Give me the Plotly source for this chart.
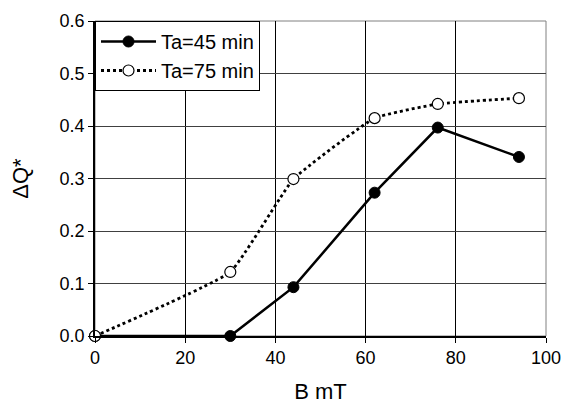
import plotly.graph_objects as go

b_45 = [0, 30, 44, 62, 76, 94]
dq_45 = [0.0, 0.0, 0.093, 0.273, 0.397, 0.341]
b_75 = [0, 30, 44, 62, 76, 94]
dq_75 = [0.0, 0.122, 0.299, 0.415, 0.442, 0.453]
names = ["Ta=45 min", "Ta=75 min"]

fig = go.Figure()
fig.add_trace(go.Scatter(
    x=b_45, y=dq_45, name=names[0], mode="lines+markers",
    line=dict(color="black", width=2.5),
    marker=dict(symbol="circle", size=11, color="black", line=dict(color="black", width=1)),
    cliponaxis=False,
))
fig.add_trace(go.Scatter(
    x=b_75, y=dq_75, name=names[1], mode="lines+markers",
    line=dict(color="black", width=2.8, dash="dot", shape="spline", smoothing=0.35),
    marker=dict(symbol="circle", size=11, color="white", line=dict(color="black", width=1.2)),
    cliponaxis=False,
))

font = "Liberation Sans, Arial, sans-serif"
fig.update_layout(
    width=565, height=402,
    margin=dict(l=87, r=27, t=13, b=74, autoexpand=False),
    plot_bgcolor="white", paper_bgcolor="white",
    font=dict(family=font, size=18, color="black"),
    showlegend=True,
    legend=dict(
        x=0, y=1, xanchor="left", yanchor="top",
        bgcolor="white", bordercolor="black", borderwidth=1,
        font=dict(size=20), tracegroupgap=0, itemwidth=55,
    ),
    xaxis=dict(
        range=[0, 100], tickvals=[0, 20, 40, 60, 80, 100],
        showgrid=True, gridcolor="black", gridwidth=1,
        showline=True, linecolor="black", linewidth=1.5, mirror=False,
        ticks="outside", ticklen=5, tickcolor="black",
        zeroline=False, automargin=False,
        title=dict(text="B mT", font=dict(size=22), standoff=16),
    ),
    yaxis=dict(
        range=[0, 0.6], tickvals=[0, 0.1, 0.2, 0.3, 0.4, 0.5, 0.6], tickformat=".1f",
        showgrid=True, gridcolor="#404040", gridwidth=1,
        showline=True, linecolor="black", linewidth=1.5,
        ticks="outside", ticklen=5, tickcolor="black",
        zeroline=False, automargin=False,
        title=dict(text="ΔQ*", font=dict(size=22), standoff=26),
    ),
)
fig.add_shape(type="rect", xref="paper", yref="paper", x0=0, y0=0, x1=1, y1=1,
              line=dict(color="#808080", width=1), layer="below")

fig.write_html("out.html")
